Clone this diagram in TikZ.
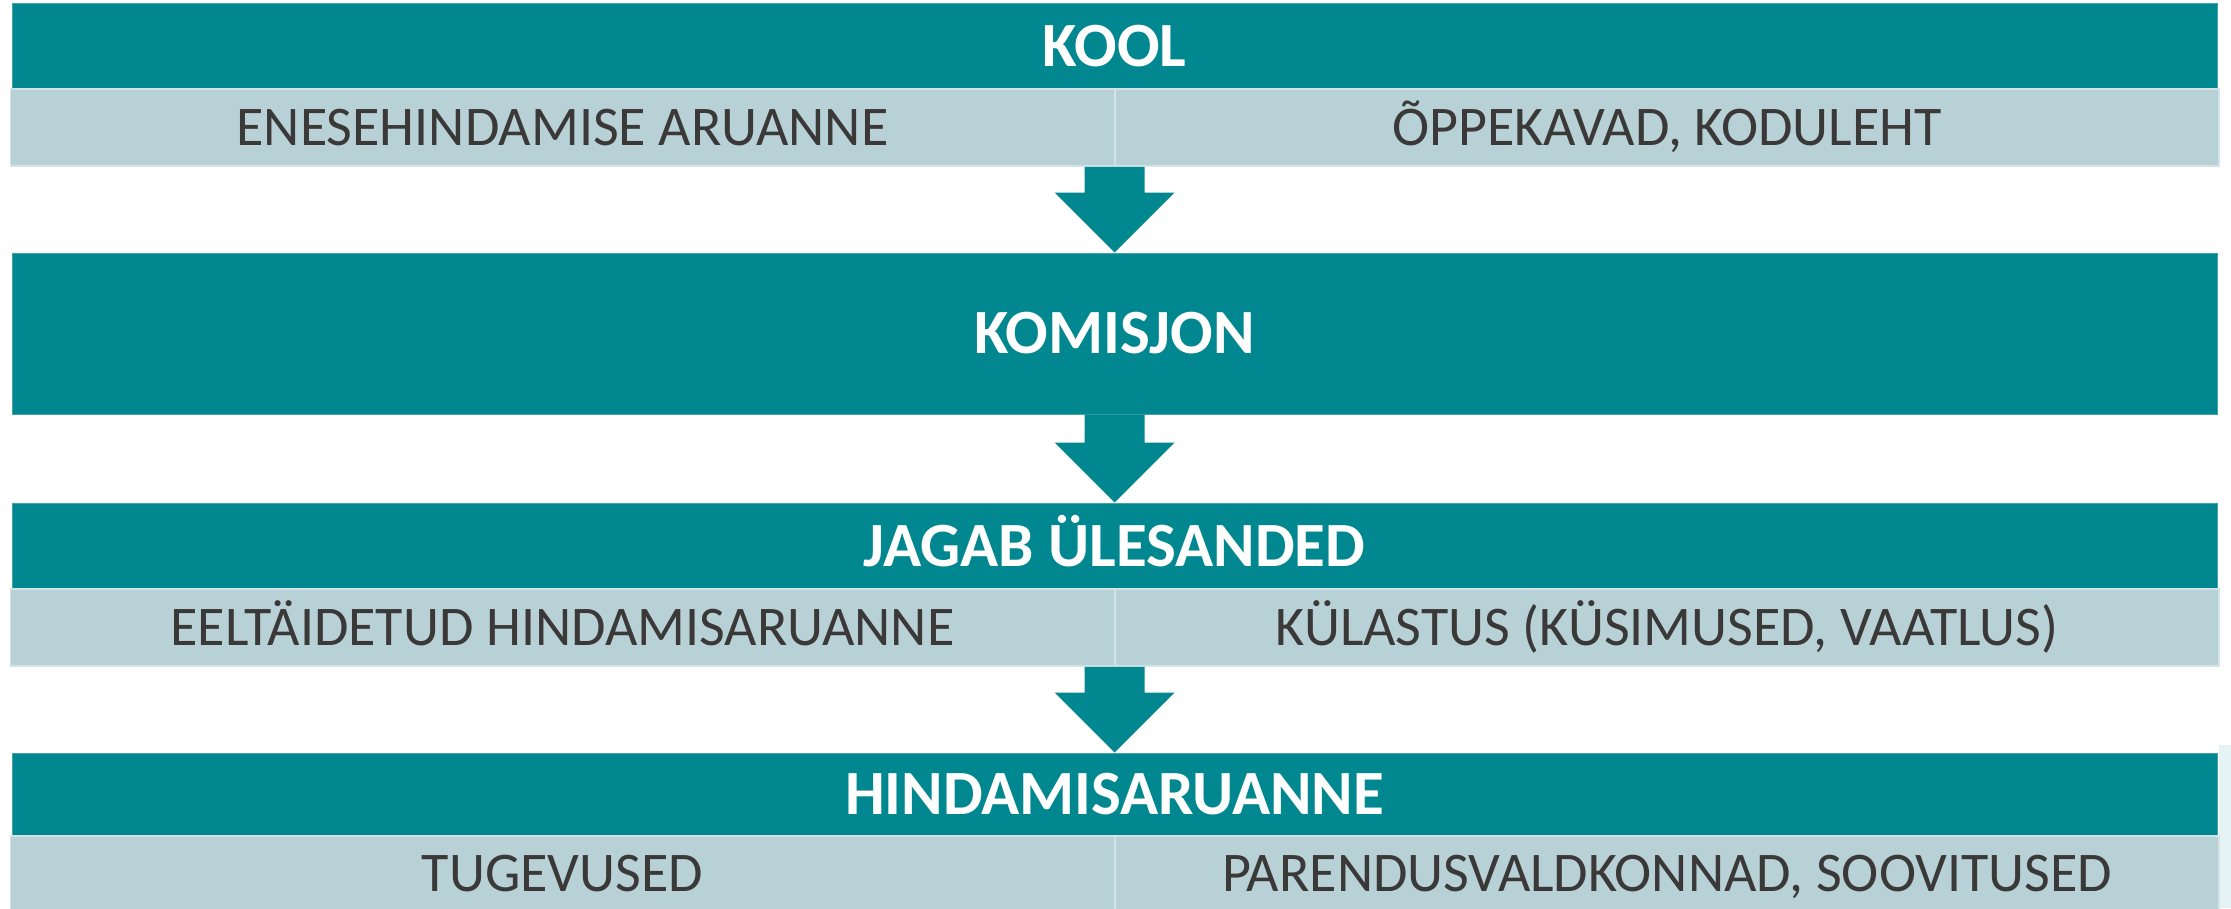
\documentclass[tikz,border=0pt]{standalone}
\usepackage{fontspec}
\setmainfont{Carlito}
\usetikzlibrary{calc}
\definecolor{tealbar}{HTML}{00878F}
\definecolor{lightbar}{HTML}{B7D1D6}
\definecolor{lightedge}{HTML}{D3E3E6}
\definecolor{txtgray}{HTML}{3B3838}
\definecolor{pane}{HTML}{E6F3F4}
\newcommand\blockarrow[2]{%
  \coordinate (tmpS) at (#1 -| #2);
  \fill[tealbar] ($(tmpS)+(-30,0)$) -- ($(tmpS)+(30,0)$) -- ($(#2)+(30,-60)$) -- ($(#2)+(60,-60)$)
    -- (#2) -- ($(#2)+(-60,-60)$) -- ($(#2)+(-30,-60)$) -- cycle;}
\begin{document}
\begin{tikzpicture}[x=1pt,y=-1pt,
  hdr/.style={fill=tealbar, draw=tealbar!75!white, line width=1pt, inner sep=0pt,
    minimum width=2205pt, text=white, font=\fontsize{63}{69}\selectfont\bfseries,
    text height=40pt, text depth=0pt},
  cell/.style={fill=lightbar, draw=lightedge, line width=1.5pt, inner sep=0pt,
    minimum width=1104pt, text=txtgray, font=\fontsize{56}{61}\selectfont,
    text height=35.5pt, text depth=0pt}]
\useasboundingbox (0,0) rectangle (2231,908);
\fill[pane] (2219,745) rectangle (2231,908);
% row 1
\node[hdr, minimum height=86pt] (kool) at (1114.5,46) {KOOL};
\node[cell, minimum height=77pt] (c1l) at (562.5,127.5) {ENESEHINDAMISE ARUANNE};
\node[cell, minimum height=77pt] (c1r) at (1667,127.5) {ÕPPEKAVAD, KODULEHT};
% row 2
\node[hdr, minimum height=161pt] (kom) at (1114.5,333.5) {KOMISJON};
% row 3
\node[hdr, minimum height=86pt] (jag) at (1114.5,546) {JAGAB ÜLESANDED};
\node[cell, minimum height=77pt] (c3l) at (562.5,627.5) {EELTÄIDETUD HINDAMISARUANNE};
\node[cell, minimum height=77pt] (c3r) at (1667,627.5) {KÜLASTUS (KÜSIMUSED, VAATLUS)};
% row 4
\node[hdr, minimum height=83pt] (hin) at (1114.5,794.5) {HINDAMISARUANNE};
\node[cell, minimum height=76pt] (c4l) at (562.5,874) {TUGEVUSED};
\node[cell, minimum height=76pt] (c4r) at (1667,874) {PARENDUSVALDKONNAD, SOOVITUSED};
% arrows
\blockarrow{c1l.south east}{kom.north}
\blockarrow{kom.south}{jag.north}
\blockarrow{c3l.south east}{hin.north}
\end{tikzpicture}
\end{document}
